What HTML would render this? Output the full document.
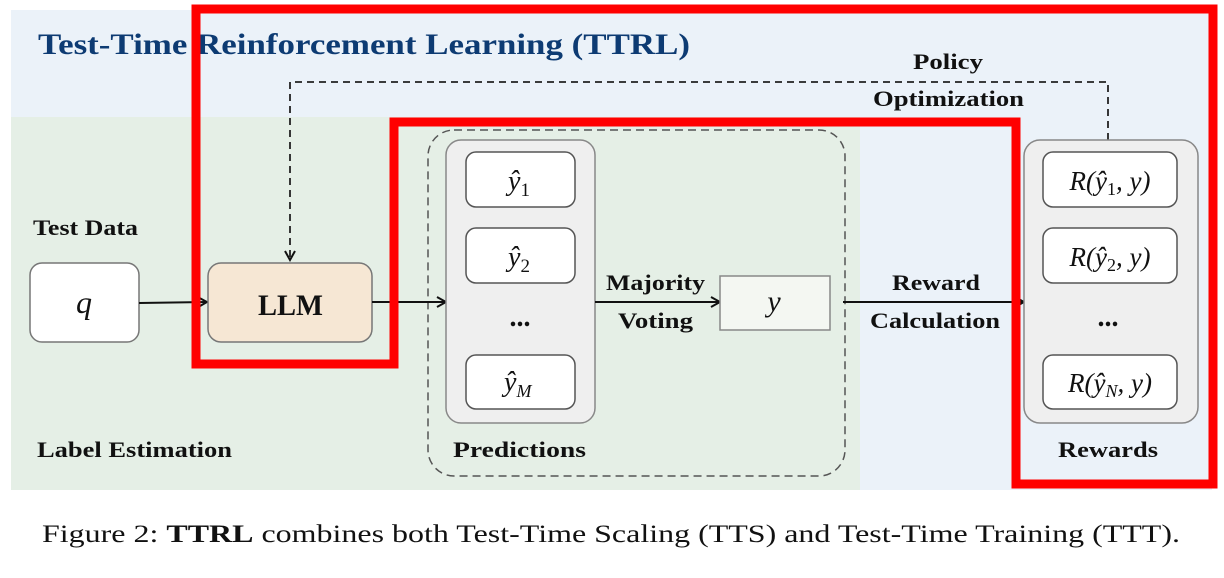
<!DOCTYPE html>
<html><head><meta charset="utf-8"><style>
html,body{margin:0;padding:0;background:#fff;width:1224px;height:578px;overflow:hidden}
svg{display:block}
.b{font-family:"Liberation Serif","DejaVu Serif",serif;font-weight:bold;fill:#111}
.m{font-family:"Liberation Serif","DejaVu Serif",serif;font-style:italic;fill:#111}
</style></head><body>
<svg width="1224" height="578" viewBox="0 0 1224 578" xmlns="http://www.w3.org/2000/svg">
<defs>
<marker id="ar" markerWidth="12" markerHeight="12" refX="10" refY="6" orient="auto" markerUnits="userSpaceOnUse">
<path d="M1,1 L10,6 L1,11" fill="none" stroke="#111" stroke-width="2"/></marker>
</defs>
<rect x="11" y="10" width="1201" height="480" fill="#ebf2f9"/>
<rect x="11" y="117" width="849" height="373" fill="#e5efe6"/>
<text x="38" y="54" font-family="Liberation Serif,serif" font-weight="bold" font-size="30" fill="#0d3b73" textLength="652" lengthAdjust="spacingAndGlyphs">Test-Time Reinforcement Learning (TTRL)</text>

<path d="M1108,140 L1108,82 L290,82 L290,260" fill="none" stroke="#222" stroke-width="1.8" stroke-dasharray="7,5" marker-end="url(#ar)"/>
<text class="b" x="913" y="69" font-size="22" textLength="70" lengthAdjust="spacingAndGlyphs">Policy</text>
<text class="b" x="873" y="106" font-size="22" textLength="151" lengthAdjust="spacingAndGlyphs">Optimization</text>

<rect x="428" y="130" width="417" height="346" rx="26" fill="none" stroke="#555" stroke-width="1.5" stroke-dasharray="8,5"/>

<text class="b" x="33" y="235" font-size="22" textLength="105" lengthAdjust="spacingAndGlyphs">Test Data</text>
<rect x="30" y="263" width="109" height="79" rx="12" fill="#fff" stroke="#777" stroke-width="1.5"/>
<text class="m" x="84" y="313" font-size="32" text-anchor="middle">q</text>
<line x1="139" y1="303" x2="207" y2="302" stroke="#111" stroke-width="2" marker-end="url(#ar)"/>
<rect x="208" y="263" width="164" height="79" rx="13" fill="#f6e7d4" stroke="#777" stroke-width="1.5"/>
<text class="b" x="258" y="315" font-size="30" textLength="65" lengthAdjust="spacingAndGlyphs">LLM</text>
<line x1="372" y1="302" x2="446" y2="302" stroke="#111" stroke-width="2" marker-end="url(#ar)"/>

<rect x="446" y="140" width="149" height="283" rx="15" fill="#efefef" stroke="#888" stroke-width="1.5"/>
<rect x="466" y="152" width="109" height="55" rx="10" fill="#fff" stroke="#555" stroke-width="1.5"/>
<text class="m" x="508" y="190" font-size="28">ŷ<tspan font-style="normal" font-size="19" dy="6">1</tspan></text>
<rect x="466" y="228" width="109" height="55" rx="10" fill="#fff" stroke="#555" stroke-width="1.5"/>
<text class="m" x="508" y="266" font-size="28">ŷ<tspan font-style="normal" font-size="19" dy="6">2</tspan></text>
<text class="b" x="520" y="326" font-size="28" text-anchor="middle">...</text>
<rect x="466" y="355" width="109" height="54" rx="10" fill="#fff" stroke="#555" stroke-width="1.5"/>
<text class="m" x="504" y="391" font-size="28">ŷ<tspan font-size="18" dy="6">M</tspan></text>
<text class="b" x="453" y="457" font-size="22" textLength="133" lengthAdjust="spacingAndGlyphs">Predictions</text>

<line x1="595" y1="302" x2="720" y2="302" stroke="#111" stroke-width="2" marker-end="url(#ar)"/>
<text class="b" x="606" y="290" font-size="22" textLength="99" lengthAdjust="spacingAndGlyphs">Majority</text>
<text class="b" x="618" y="328" font-size="22" textLength="75" lengthAdjust="spacingAndGlyphs">Voting</text>
<rect x="720" y="276" width="110" height="54" fill="#f4f7f2" stroke="#888" stroke-width="1.5"/>
<text class="m" x="774" y="311" font-size="30" text-anchor="middle">y</text>

<line x1="843" y1="302" x2="1024" y2="302" stroke="#111" stroke-width="2" marker-end="url(#ar)"/>
<text class="b" x="892" y="290" font-size="22" textLength="88" lengthAdjust="spacingAndGlyphs">Reward</text>
<text class="b" x="870" y="328" font-size="22" textLength="130" lengthAdjust="spacingAndGlyphs">Calculation</text>

<rect x="1024" y="140" width="174" height="283" rx="16" fill="#efefef" stroke="#888" stroke-width="1.5"/>
<rect x="1043" y="152" width="134" height="55" rx="10" fill="#fff" stroke="#555" stroke-width="1.5"/>
<text class="m" x="1110" y="190" font-size="27" text-anchor="middle">R(ŷ<tspan font-style="normal" font-size="18" dy="5">1</tspan><tspan dy="-5">, y)</tspan></text>
<rect x="1043" y="228" width="134" height="55" rx="10" fill="#fff" stroke="#555" stroke-width="1.5"/>
<text class="m" x="1110" y="266" font-size="27" text-anchor="middle">R(ŷ<tspan font-style="normal" font-size="18" dy="5">2</tspan><tspan dy="-5">, y)</tspan></text>
<text class="b" x="1108" y="326" font-size="28" text-anchor="middle">...</text>
<rect x="1043" y="355" width="134" height="54" rx="10" fill="#fff" stroke="#555" stroke-width="1.5"/>
<text class="m" x="1110" y="392" font-size="27" text-anchor="middle">R(ŷ<tspan font-size="18" dy="5">N</tspan><tspan dy="-5">, y)</tspan></text>
<text class="b" x="1058" y="457" font-size="22" textLength="100" lengthAdjust="spacingAndGlyphs">Rewards</text>

<text class="b" x="37" y="457" font-size="22" textLength="195" lengthAdjust="spacingAndGlyphs">Label Estimation</text>

<path d="M196,9 L1213,9 L1213,484 L1016,484 L1016,122 L394,122 L394,364 L196,364 Z" fill="none" stroke="#ff0000" stroke-width="9" stroke-linejoin="miter"/>

<text x="42" y="542" font-family="Liberation Serif,serif" font-size="25" fill="#111" textLength="1138" lengthAdjust="spacingAndGlyphs">Figure 2: <tspan font-weight="bold">TTRL</tspan> combines both Test-Time Scaling (TTS) and Test-Time Training (TTT).</text>
</svg>
</body></html>
